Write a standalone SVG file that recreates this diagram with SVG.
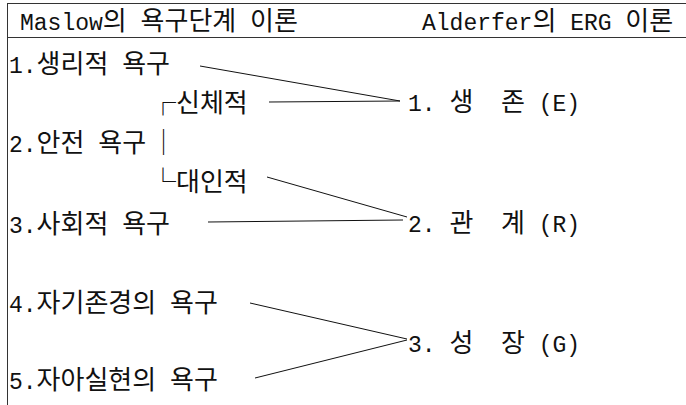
<svg xmlns="http://www.w3.org/2000/svg" width="686" height="405" viewBox="0 0 686 405">
<style>
.t{font-family:"Liberation Mono","Noto Sans CJK KR",monospace;font-size:23px;fill:#111;white-space:pre}
.k{font-family:"Noto Sans CJK KR",sans-serif;font-size:26px}
.frame{stroke:#333;stroke-width:1;fill:none}
.c{stroke:#111;stroke-width:1;fill:none}
</style>
<rect width="686" height="405" fill="#fff"/>
<g id="frame">
<line class="frame" x1="7" y1="3.5" x2="686" y2="3.5"/>
<line class="frame" x1="7" y1="37.5" x2="686" y2="37.5"/>
<line class="frame" x1="7.5" y1="3" x2="7.5" y2="405"/>
</g>
<g id="header-maslow"><text class="t" x="20" y="30">Maslow<tspan class="k">의</tspan> <tspan class="k">욕구단계</tspan> <tspan class="k">이론</tspan></text></g>
<g id="header-alderfer"><text class="t" x="422" y="30">Alderfer<tspan class="k">의</tspan> ERG <tspan class="k">이론</tspan></text></g>
<g id="m1"><text class="t" x="9" y="73">1.<tspan class="k">생리적</tspan> <tspan class="k">욕구</tspan></text></g>
<g id="m-body"><text class="t" x="150" y="112"><tspan class="k">┌신체적</tspan></text></g>
<g id="m2"><text class="t" x="9" y="152">2.<tspan class="k">안전</tspan> <tspan class="k">욕구</tspan><tspan class="k" x="150.5">│</tspan></text></g>
<g id="m-inter"><text class="t" x="150" y="191"><tspan class="k">└대인적</tspan></text></g>
<g id="m3"><text class="t" x="9" y="233">3.<tspan class="k">사회적</tspan> <tspan class="k">욕구</tspan></text></g>
<g id="m4"><text class="t" x="9" y="312">4.<tspan class="k">자기존경의</tspan> <tspan class="k">욕구</tspan></text></g>
<g id="m5"><text class="t" x="9" y="389">5.<tspan class="k">자아실현의</tspan> <tspan class="k">욕구</tspan></text></g>
<g id="e1"><text class="t" x="408" y="111">1. <tspan class="k">생</tspan>  <tspan class="k">존</tspan> (E)</text></g>
<g id="e2"><text class="t" x="408" y="232">2. <tspan class="k">관</tspan>  <tspan class="k">계</tspan> (R)</text></g>
<g id="e3"><text class="t" x="408" y="352">3. <tspan class="k">성</tspan>  <tspan class="k">장</tspan> (G)</text></g>
<g id="connectors">
<line class="c" x1="200" y1="66" x2="400" y2="101"/>
<line class="c" x1="269" y1="102" x2="400" y2="101"/>
<line class="c" x1="267" y1="177" x2="407" y2="217"/>
<line class="c" x1="208" y1="222" x2="403" y2="220"/>
<line class="c" x1="250" y1="303" x2="407" y2="339"/>
<line class="c" x1="255" y1="378" x2="407" y2="340"/>
</g>
</svg>
